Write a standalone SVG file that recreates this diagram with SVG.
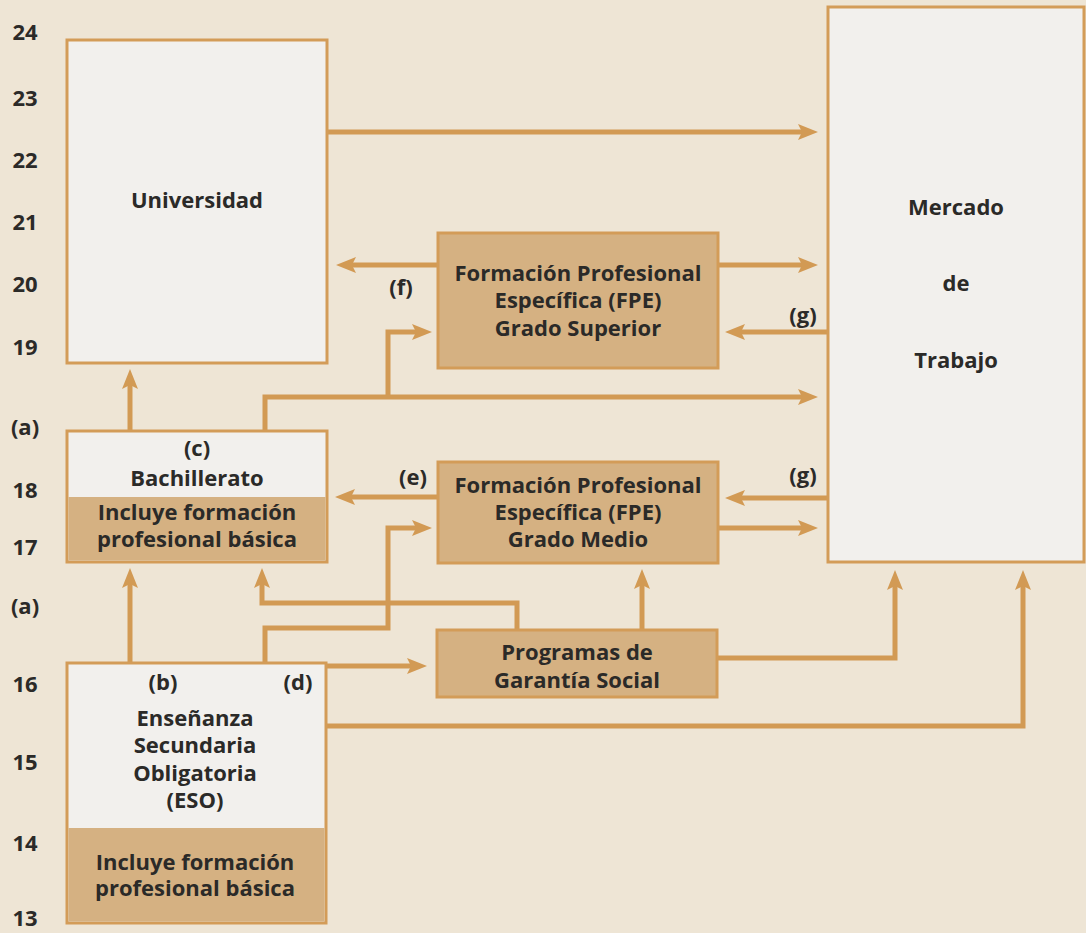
<svg xmlns="http://www.w3.org/2000/svg" width="1086" height="933" viewBox="0 0 1086 933">
<defs>
<style>
.bg{fill:#eee5d5}
.wbox{fill:#f2f0ed;stroke:#d39c58;stroke-width:3}
.tbox{fill:#d5b182;stroke:#d39c58;stroke-width:3}
.tan{fill:#d5b182}
.c{fill:none;stroke:#d29a54;stroke-width:5;stroke-linejoin:miter;marker-end:url(#ah)}
text{font-family:"Open Sans","Liberation Sans",sans-serif;font-weight:700;font-size:22px;fill:#2b2a28;text-anchor:middle}
.ax{font-size:22px}
</style>
<marker id="ah" viewBox="0 0 20 16" refX="11" refY="8" markerWidth="20" markerHeight="16" markerUnits="userSpaceOnUse" orient="auto">
<path d="M0,0 L20,8 L0,16 L4,8 Z" fill="#d29a54"/>
</marker>
</defs>
<rect class="bg" x="0" y="0" width="1086" height="933"/>

<g id="axis">
<text class="ax" x="25" y="40">24</text>
<text class="ax" x="25" y="106">23</text>
<text class="ax" x="25" y="168">22</text>
<text class="ax" x="25" y="230">21</text>
<text class="ax" x="25" y="292">20</text>
<text class="ax" x="25" y="355">19</text>
<text class="ax" x="25" y="435">(a)</text>
<text class="ax" x="25" y="498">18</text>
<text class="ax" x="25" y="555">17</text>
<text class="ax" x="25" y="614">(a)</text>
<text class="ax" x="25" y="692">16</text>
<text class="ax" x="25" y="770">15</text>
<text class="ax" x="25" y="851">14</text>
<text class="ax" x="25" y="926">13</text>
</g>

<g id="connectors">
<path class="c" d="M327,132 H809"/>
<path class="c" d="M438,265 H345"/>
<path class="c" d="M718,265 H809"/>
<path class="c" d="M828,332 H734"/>
<path class="c" d="M265,430 V397 H809"/>
<path class="c" d="M388,397 V332 H423"/>
<path class="c" d="M130,430 V378"/>
<path class="c" d="M438,497 H344"/>
<path class="c" d="M828,498 H734"/>
<path class="c" d="M718,528 H809"/>
<path class="c" d="M265,663 V628 H388 V528 H423"/>
<path class="c" d="M130,663 V577"/>
<path class="c" d="M517,630 V603 H262 V577"/>
<path class="c" d="M642,630 V578"/>
<path class="c" d="M327,666 H418"/>
<path class="c" d="M717,658 H895 V579"/>
<path class="c" d="M326,726 H1023 V579"/>
<text x="401" y="295">(f)</text>
<text x="803" y="323">(g)</text>
<text x="413" y="485">(e)</text>
<text x="803" y="483">(g)</text>
</g>

<g id="universidad">
<rect class="wbox" x="67" y="40" width="260" height="323"/>
<text x="197" y="208">Universidad</text>
</g>

<g id="mercado">
<rect class="wbox" x="828" y="7" width="256" height="555"/>
<text x="956" y="215">Mercado</text>
<text x="956" y="291">de</text>
<text x="956" y="368">Trabajo</text>
</g>

<g id="fpe-superior">
<rect class="tbox" x="438" y="233" width="280" height="135"/>
<text x="578" y="281">Formación Profesional</text>
<text x="578" y="308">Específica (FPE)</text>
<text x="578" y="336">Grado Superior</text>
</g>

<g id="fpe-medio">
<rect class="tbox" x="438" y="462" width="280" height="101"/>
<text x="578" y="493">Formación Profesional</text>
<text x="578" y="520">Específica (FPE)</text>
<text x="578" y="547">Grado Medio</text>
</g>

<g id="programas">
<rect class="tbox" x="437" y="630" width="280" height="67"/>
<text x="577" y="660">Programas de</text>
<text x="577" y="688">Garantía Social</text>
</g>

<g id="bachillerato">
<rect class="wbox" x="67" y="431" width="260" height="131"/>
<rect class="tan" x="68.5" y="497" width="257" height="63.5"/>
<text x="197" y="456">(c)</text>
<text x="197" y="486">Bachillerato</text>
<text x="197" y="520">Incluye formación</text>
<text x="197" y="547">profesional básica</text>
</g>

<g id="eso">
<rect class="wbox" x="67" y="663" width="259" height="260"/>
<rect class="tan" x="68.5" y="828" width="256" height="93.5"/>
<text x="163" y="690">(b)</text>
<text x="298" y="690">(d)</text>
<text x="195" y="726">Enseñanza</text>
<text x="195" y="753">Secundaria</text>
<text x="195" y="781">Obligatoria</text>
<text x="195" y="808">(ESO)</text>
<text x="195" y="870">Incluye formación</text>
<text x="195" y="896">profesional básica</text>
</g>
</svg>
